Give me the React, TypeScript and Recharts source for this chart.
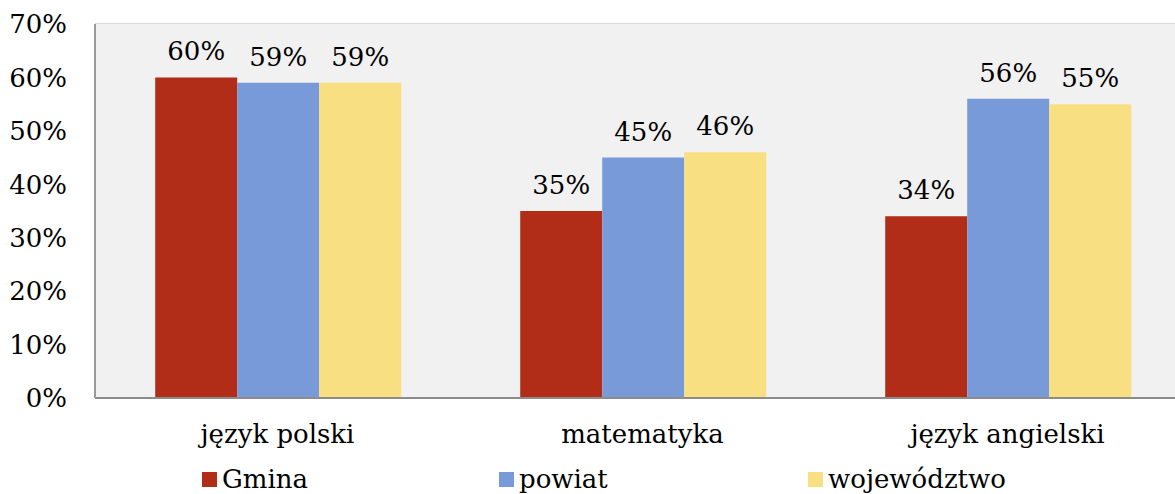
import React from 'react';
import { BarChart, Bar, XAxis, YAxis, CartesianGrid, Legend, LabelList } from 'recharts';

const categories = ['język polski', 'matematyka', 'język angielski'];
const gmina = [0.6, 0.35, 0.34];
const powiat = [0.59, 0.45, 0.56];
const wojewodztwo = [0.59, 0.46, 0.55];
const yTicks = [0, 0.1, 0.2, 0.3, 0.4, 0.5, 0.6, 0.7];

const seriesNames = ['Gmina', 'powiat', 'województwo'];
const colors = ['#B22D18', '#789AD8', '#F8DF82'];

const data = categories.map((c, i) => ({
  name: c,
  gmina: gmina[i],
  powiat: powiat[i],
  wojewodztwo: wojewodztwo[i],
}));

const FONT = '"DejaVu Serif", serif';
const FS = 26;
const pct = (v: number) => `${Math.round(v * 100)}%`;

const itemWidths = [297, 309, 300];

const LegendContent = () => (
  <div style={{ display: 'flex', height: 30, paddingLeft: 202, alignItems: 'center', fontFamily: FONT, fontSize: FS, color: '#000' }}>
    {seriesNames.map((n, i) => (
      <div key={n} style={{ width: itemWidths[i], display: 'flex', alignItems: 'center' }}>
        <span style={{ display: 'inline-block', width: 15, height: 15, background: colors[i], marginRight: 5 }} />
        <span>{n}</span>
      </div>
    ))}
  </div>
);

export default function App() {
  return (
    <div style={{ position: 'fixed', left: 0, top: 0, width: 1175, height: 494, overflow: 'hidden', background: '#fff' }}>
      <BarChart
        width={1200}
        height={494}
        data={data}
        margin={{ top: 24, right: 10, left: 0, bottom: 0 }}
        barCategoryGap="16.5%"
        barGap={0}
      >
        <rect x={95} y={24} width={1095} height={374} fill="#F1F1F1" />
        <CartesianGrid vertical={false} stroke="#D9D9D9" strokeWidth={2} />
        <XAxis
          dataKey="name"
          axisLine={{ stroke: '#8C8C8C', strokeWidth: 2 }}
          tickLine={false}
          tickSize={0}
          tickMargin={27}
          height={66}
          tick={{ fill: '#000', fontFamily: FONT, fontSize: FS }}
        />
        <YAxis
          width={95}
          domain={[0, 0.7]}
          ticks={yTicks}
          tickFormatter={pct}
          axisLine={{ stroke: '#9A9A9A', strokeWidth: 2 }}
          tickLine={false}
          tickSize={0}
          tickMargin={28}
          tick={{ fill: '#000', fontFamily: FONT, fontSize: FS }}
          interval={0}
        />
        <Legend verticalAlign="bottom" content={<LegendContent />} wrapperStyle={{ left: 0, width: 1200 }} />
        <Bar dataKey="gmina" name={seriesNames[0]} fill={colors[0]} isAnimationActive={false}>
          <LabelList dataKey="gmina" position="top" offset={17} formatter={pct} style={{ fill: '#000', fontFamily: FONT, fontSize: FS }} />
        </Bar>
        <Bar dataKey="powiat" name={seriesNames[1]} fill={colors[1]} isAnimationActive={false}>
          <LabelList dataKey="powiat" position="top" offset={17} formatter={pct} style={{ fill: '#000', fontFamily: FONT, fontSize: FS }} />
        </Bar>
        <Bar dataKey="wojewodztwo" name={seriesNames[2]} fill={colors[2]} isAnimationActive={false}>
          <LabelList dataKey="wojewodztwo" position="top" offset={17} formatter={pct} style={{ fill: '#000', fontFamily: FONT, fontSize: FS }} />
        </Bar>
      </BarChart>
    </div>
  );
}
